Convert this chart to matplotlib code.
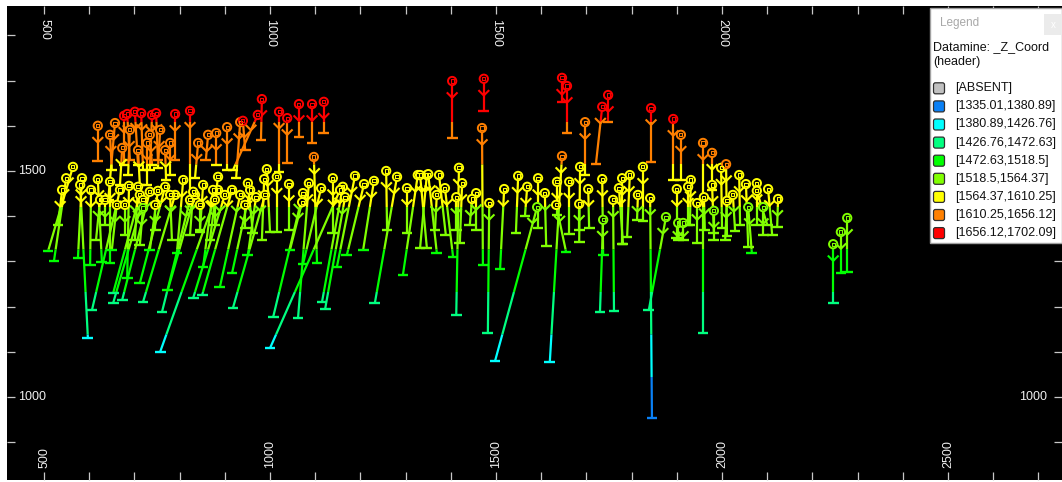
#!/usr/bin/env python3
"""Section view of drillhole traces, coloured by elevation bins (_Z_Coord)."""
import numpy as np
import matplotlib

matplotlib.use("Agg")
import matplotlib.pyplot as plt
from matplotlib.collections import LineCollection
from matplotlib.patches import FancyBboxPatch, Rectangle
from matplotlib.path import Path

plt.rcParams["font.family"] = ["Liberation Sans", "DejaVu Sans"]

# collar (section easting, elevation) and end-of-hole point for every trace
COLLAR_X = [
    564, 549, 584, 580, 604, 619, 668, 646, 712, 719, 734, 688, 768, 790, 885, 823, 834,
    808, 900, 916, 934, 874, 885, 708, 752, 830, 852, 956, 989, 540, 624, 661, 719,
    635, 679, 746, 779, 845, 945, 878,
    619, 657, 677, 684, 701, 715, 739, 748, 790, 823, 779, 841, 863, 881, 905, 934,
    940, 982, 973, 1020, 1038, 1064, 1093, 1119, 673, 728,
    646, 690, 708, 757, 768, 734,
    1097, 993, 951, 969, 987, 1015, 1042, 1073, 1086, 1113, 1071, 1139, 1161, 1166,
    1188, 1208, 1230, 1257, 1281, 1303, 1327, 1347, 1155,
    1403, 1473, 1646, 1657, 1748, 1735, 1469, 1697, 1646, 1332, 1350, 1374, 1387, 1369,
    1418, 1425, 1412, 1456, 1447, 1485, 1518, 1549, 1569, 1593, 1608, 1591, 1635, 1662,
    1633, 1686, 1684, 1704, 1737, 1735, 1759, 1779, 1772, 1796,
    1843, 1892, 1909, 1958, 1978, 1825, 1814, 1841, 1876, 1900, 1931, 1925, 1903, 1945,
    1960, 1978, 1998, 2009, 2011, 2024, 2038, 2053, 2058, 2077, 2077, 2102, 2124, 2091,
    2246, 2263, 2277, 1914, 1982,
]
COLLAR_Y = [
    1509, 1484, 1484, 1469, 1458, 1482, 1458, 1476, 1447, 1436, 1454, 1467, 1465, 1447,
    1458, 1436, 1447, 1480, 1447, 1458, 1447, 1458, 1487, 1465, 1456, 1454, 1469, 1458,
    1447, 1458, 1436, 1425, 1418,
    1436, 1425, 1425, 1447, 1425, 1425, 1436,
    1600, 1606, 1622, 1626, 1631, 1628, 1624, 1628, 1626, 1633, 1562, 1562, 1580, 1584,
    1597, 1608, 1611, 1659, 1624, 1631, 1617, 1648, 1648, 1653, 1551, 1562,
    1580, 1591, 1546, 1591, 1546, 1580,
    1531, 1504, 1473, 1442, 1482, 1487, 1471, 1451, 1473, 1462, 1431, 1484, 1465, 1442,
    1489, 1471, 1478, 1500, 1487, 1462, 1491, 1491, 1458,
    1699, 1704, 1706, 1688, 1668, 1642, 1595, 1608, 1533, 1491, 1493, 1491, 1462, 1447,
    1507, 1473, 1442, 1451, 1438, 1429, 1460, 1489, 1465, 1484, 1451, 1420, 1476, 1476,
    1425, 1509, 1427, 1460, 1392, 1482, 1436, 1484, 1462, 1491,
    1639, 1615, 1580, 1562, 1540, 1509, 1447, 1440, 1398, 1460, 1480, 1465, 1385, 1429,
    1442, 1469, 1507, 1515, 1434, 1447, 1491, 1471, 1420, 1473, 1456, 1460, 1438, 1420,
    1338, 1365, 1396, 1385, 1412,
]
END_X = [
    509, 522, 575, 597, 602, 628, 606, 646, 653, 653, 673, 684, 712, 719, 757, 761, 774,
    794, 830, 850, 889, 852, 867, 701, 734, 823, 845, 916, 918, 531, 615, 650, 712,
    635, 679, 746, 783, 845, 945, 878,
    619, 642, 677, 690, 708, 719, 734, 752, 790, 823, 779, 834, 858, 881, 905, 925,
    945, 980, 918, 1020, 1038, 1064, 1093, 1119, 668, 728,
    650, 686, 712, 752, 770, 739,
    1104, 1000, 962, 951, 982, 1015, 1042, 1007, 1062, 1073, 1044, 1139, 1115, 1122,
    1148, 1170, 1206, 1259, 1232, 1303, 1294, 1332, 1000,
    1403, 1473, 1646, 1657, 1748, 1721, 1471, 1697, 1619, 1347, 1369, 1389, 1405, 1365,
    1412, 1420, 1412, 1456, 1442, 1482, 1509, 1544, 1564, 1593, 1611, 1498, 1635, 1662,
    1655, 1684, 1684, 1706, 1730, 1737, 1761, 1779, 1781, 1790,
    1843, 1892, 1909, 1958, 1978, 1825, 1812, 1845, 1838, 1900, 1929, 1925, 1903, 1945,
    1962, 1982, 2000, 2011, 2007, 2029, 2040, 2058, 2066, 2077, 2100, 2111, 2122, 2091,
    2246, 2263, 2277, 1914, 1982,
]
END_Y = [
    1323, 1301, 1307, 1131, 1292, 1299, 1192, 1296, 1230, 1208, 1215, 1263, 1252, 1210,
    1100, 1188, 1237, 1319, 1219, 1226, 1243, 1288, 1347, 1347, 1325, 1358, 1369, 1274,
    1197, 1381, 1347, 1325, 1336,
    1381, 1358, 1369, 1347, 1365, 1374, 1381,
    1522, 1436, 1513, 1524, 1513, 1502, 1502, 1524, 1524, 1436, 1491, 1484, 1524, 1513,
    1502, 1484, 1546, 1569, 1502, 1498, 1518, 1575, 1562, 1584, 1469, 1469,
    1502, 1491, 1469, 1507, 1480, 1513,
    1296, 1365, 1363, 1314, 1347, 1365, 1369, 1177, 1175, 1294, 1325, 1363, 1210, 1195,
    1288, 1314, 1325, 1369, 1208, 1363, 1270, 1330, 1108,
    1573, 1633, 1653, 1584, 1608, 1515, 1292, 1491, 1077, 1330, 1319, 1358, 1310, 1369,
    1181, 1341, 1369, 1369, 1381, 1142, 1283, 1363, 1400, 1374, 1334, 1080, 1403, 1361,
    1321, 1343, 1369, 1374, 1188, 1314, 1190, 1338, 1338, 1354,
    1520, 1480, 1480, 1142, 1458, 1389, 1392, 954, 1192, 1352, 1381, 1381, 1347, 1341,
    1369, 1363, 1374, 1356, 1347, 1367, 1381, 1332, 1319, 1381, 1381, 1358, 1376, 1358,
    1208, 1274, 1277, 1347, 1347,
]

# legend bins for the header Z attribute
Z_EDGES = [1335.01, 1380.89, 1426.76, 1472.63, 1518.5, 1564.37, 1610.25, 1656.12, 1702.09]
Z_LABELS = ["[ABSENT]", "[1335.01,1380.89]", "[1380.89,1426.76]", "[1426.76,1472.63]",
            "[1472.63,1518.5]", "[1518.5,1564.37]", "[1564.37,1610.25]",
            "[1610.25,1656.12]", "[1656.12,1702.09]"]
Z_COLOURS = ["#c0c0c0", "#0a80f5", "#00ffff", "#00ff80", "#00ff00", "#80ff00",
             "#ffff00", "#ff8000", "#ff0000"]

# grid labels; the ones under the legend panel are not drawn
XTICKS = [500, 1000, 1500, 2000, 2500]
XTICKS_TOP = [500, 1000, 1500, 2000]
YTICKS = [1000, 1500]
YTICKS_RIGHT = [1000]

# section elevation -> Z attribute (view is vertically exaggerated)
Y_REF, Z_REF, VEXAG = 1608.4, 1656.12, 2.05
TEXT = "#f0f0f0"


def to_z(y):
    return Z_REF + (y - Y_REF) / VEXAG


def bin_colour(y):
    i = np.searchsorted(Z_EDGES, to_z(y)) - 1
    return Z_COLOURS[1 + int(np.clip(i, 0, len(Z_EDGES) - 2))]


def build_traces():
    y_breaks = [Y_REF + (z - Z_REF) * VEXAG for z in Z_EDGES[1:-1]]
    segs, seg_cols = [], []
    chev, chev_cols = [], []
    for x0, y0, x1, y1 in zip(COLLAR_X, COLLAR_Y, END_X, END_Y):
        ts = [0.0, 1.0]
        for yb in y_breaks:
            if min(y0, y1) < yb < max(y0, y1):
                ts.append((yb - y0) / (y1 - y0))
        ts.sort()
        for ta, tb in zip(ts[:-1], ts[1:]):
            pa = (x0 + ta * (x1 - x0), y0 + ta * (y1 - y0))
            pb = (x0 + tb * (x1 - x0), y0 + tb * (y1 - y0))
            segs.append([pa, pb])
            seg_cols.append(bin_colour(0.5 * (pa[1] + pb[1])))
        # direction arrow a short way down the hole
        length = np.hypot(x1 - x0, y1 - y0)
        t = min(37.0, 0.8 * length) / length
        cx, cy = x0 + t * (x1 - x0), y0 + t * (y1 - y0)
        chev.append((cx, cy))
        chev_cols.append(bin_colour(cy))
    return segs, seg_cols, np.array(chev), chev_cols


fig = plt.figure(figsize=(10.62, 4.82), dpi=100, facecolor="white")
ax = fig.add_axes([7 / 1062, 2 / 482, 1055 / 1062, 474 / 482], facecolor="black")
ax.set_xlim(418.1, 2752.2)
ax.set_ylim(816.3, 1865.0)
for s in ax.spines.values():
    s.set_visible(False)

ax.set_xticks(XTICKS)
ax.set_xticks(np.arange(500, 2800, 100), minor=True)
ax.set_yticks(YTICKS)
ax.set_yticks(np.arange(900, 1900, 100), minor=True)
ax.tick_params(which="both", direction="in", length=5.5, width=0.9, color="#c8c8c8",
               top=True, right=True, labelbottom=False, labelleft=False)

for v in XTICKS:
    ax.annotate(str(v), xy=(v, 0), xycoords=("data", "axes fraction"), xytext=(0, 9),
                textcoords="offset points", rotation=90, ha="center", va="bottom",
                color=TEXT, fontsize=9)
for v in XTICKS_TOP:
    ax.annotate(str(v), xy=(v, 1), xycoords=("data", "axes fraction"), xytext=(0, -9),
                textcoords="offset points", rotation=270, ha="center", va="top",
                color=TEXT, fontsize=9)
for v in YTICKS:
    ax.annotate(str(v), xy=(0, v), xycoords=("axes fraction", "data"), xytext=(8.3, 0),
                textcoords="offset points", ha="left", va="center", color=TEXT, fontsize=9)
for v in YTICKS_RIGHT:
    ax.annotate(str(v), xy=(1, v), xycoords=("axes fraction", "data"), xytext=(-11, 0),
                textcoords="offset points", ha="right", va="center", color=TEXT, fontsize=9)

segs, seg_cols, chev, chev_cols = build_traces()
ax.add_collection(LineCollection(segs, colors=seg_cols, linewidths=1.6, zorder=2))

end_cols = [bin_colour(y) for y in END_Y]
ax.scatter(END_X, END_Y, marker="_", s=60, c=end_cols, linewidths=1.7, zorder=3)

vee = Path([(-1, 1), (0, 0), (1, 1)], [Path.MOVETO, Path.LINETO, Path.LINETO])
ax.scatter(chev[:, 0], chev[:, 1], marker=vee, s=60, facecolors="none",
           edgecolors=chev_cols, linewidths=1.5, zorder=4)

collar_cols = [bin_colour(y) for y in COLLAR_Y]
ax.scatter(COLLAR_X, COLLAR_Y, marker="o", s=36, facecolors="black",
           edgecolors=collar_cols, linewidths=1.4, zorder=5)
ax.scatter(COLLAR_X, COLLAR_Y, marker="s", s=5, facecolors="none",
           edgecolors=collar_cols, linewidths=0.8, zorder=6)

# legend panel, laid out in pixel units
lax = fig.add_axes([930 / 1062, 1 - 243 / 482, 132 / 1062, 235 / 482])
lax.set_xlim(0, 132)
lax.set_ylim(235, 0)
lax.axis("off")
lax.add_patch(Rectangle((0, 0), 132, 235, facecolor="white", edgecolor="#a0a0a0",
                        linewidth=1, clip_on=False))
lax.text(10, 15, "Legend", color="#a8a8a8", fontsize=8.5, va="center")
lax.add_patch(Rectangle((114, 6), 18, 21, facecolor="#ebebeb", edgecolor="none"))
lax.text(123, 16.5, "x", color="white", fontsize=7, ha="center", va="center")
lax.text(3, 39, "Datamine: _Z_Coord", color="#111111", fontsize=9, va="center")
lax.text(3, 54, "(header)", color="#111111", fontsize=9, va="center")
for i, (lab, col) in enumerate(zip(Z_LABELS, Z_COLOURS)):
    yc = 80.3 + i * 18.1
    lax.add_patch(FancyBboxPatch((3.5, yc - 5.5), 11, 11,
                                 boxstyle="round,pad=0,rounding_size=2",
                                 facecolor=col, edgecolor="#303030", linewidth=0.9))
    lax.text(25, yc, lab, color="#111111", fontsize=9, va="center")

fig.savefig("out.png", dpi=100, facecolor=fig.get_facecolor())
